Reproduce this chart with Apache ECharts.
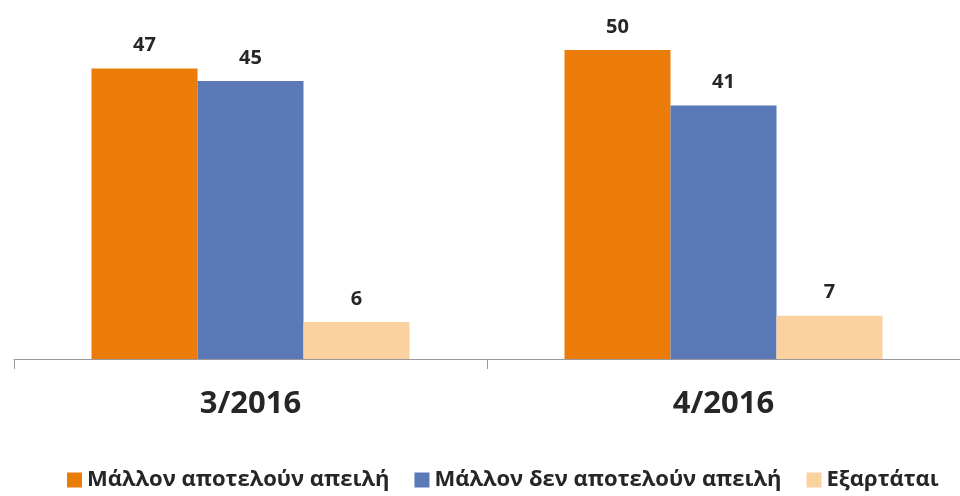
<!DOCTYPE html>
<html><head><meta charset="utf-8">
<script src="https://cdn.jsdelivr.net/npm/echarts@6/dist/echarts.min.js"></script>
<style>html,body{margin:0;padding:0;background:#fff}#c{width:960px;height:496px}</style>
</head><body><div id="c"></div>
<script>
const categories = ['3/2016', '4/2016'];
const seriesNames = ['Μάλλον αποτελούν απειλή', 'Μάλλον δεν αποτελούν απειλή', 'Εξαρτάται'];
const threat = [47, 50];
const noThreat = [45, 41];
const depends = [6, 7];
const colors = ['#EC7C0A', '#5B79B7', '#FCD1A0'];

const chart = echarts.init(document.getElementById('c'), null, {renderer: 'canvas'});
const font = '"Open Sans", sans-serif';
const mk = (name, data, color) => ({
  name, type: 'bar', data, barWidth: 106, barGap: '0%',
  itemStyle: {color},
  label: {show: true, position: 'top', distance: 13, color: '#262626', fontFamily: font, fontWeight: 'bold', fontSize: 20}
});
chart.setOption({
  animation: false,
  grid: {left: 14, right: -7, top: 50, bottom: 137},
  legend: {
    top: 464, left: 62, itemWidth: 15, itemHeight: 15, itemGap: 25, icon: 'rect',
    textStyle: {fontFamily: font, fontWeight: 'bold', fontSize: 22, color: '#262626'}
  },
  xAxis: {
    type: 'category', data: categories,
    axisLine: {lineStyle: {color: '#9a9a9a', width: 1}},
    axisTick: {show: true, length: 10, lineStyle: {color: '#9a9a9a'}},
    axisLabel: {margin: 30, color: '#262626', fontFamily: font, fontWeight: 'bold', fontSize: 31}
  },
  yAxis: {type: 'value', min: 0, max: 50, show: false, splitLine: {show: false}},
  series: [
    mk(seriesNames[0], threat, colors[0]),
    mk(seriesNames[1], noThreat, colors[1]),
    mk(seriesNames[2], depends, colors[2])
  ]
});
</script></body></html>
